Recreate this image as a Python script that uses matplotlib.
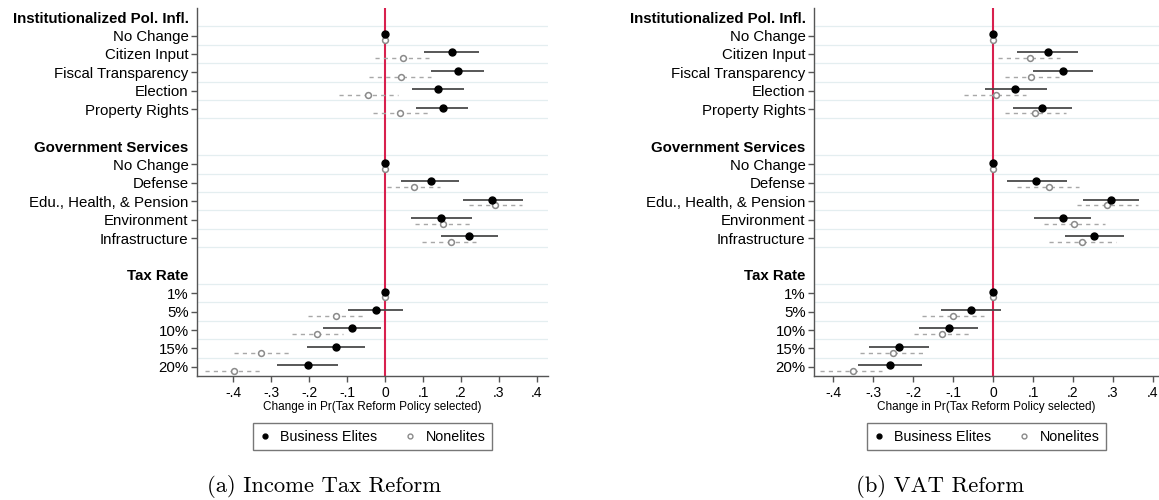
import matplotlib.pyplot as plt
from matplotlib.lines import Line2D

plt.rcParams['font.family'] = ['Liberation Sans', 'DejaVu Sans']

groups = ["Institutionalized Pol. Infl.", "Government Services", "Tax Rate"]
levels = [
    ["No Change", "Citizen Input", "Fiscal Transparency", "Election", "Property Rights"],
    ["No Change", "Defense", "Edu., Health, & Pension", "Environment", "Infrastructure"],
    ["1%", "5%", "10%", "15%", "20%"],
]

# (a) Income tax reform
inc_elite = [0, 0.176, 0.191, 0.140, 0.152, 0, 0.120, 0.282, 0.147, 0.222, 0, -0.025, -0.087, -0.130, -0.204]
inc_elite_lo = [0, 0.103, 0.122, 0.072, 0.082, 0, 0.042, 0.204, 0.068, 0.148, 0, -0.098, -0.162, -0.206, -0.284]
inc_elite_hi = [0, 0.247, 0.261, 0.209, 0.219, 0, 0.195, 0.363, 0.228, 0.297, 0, 0.048, -0.010, -0.053, -0.124]
inc_non = [0, 0.048, 0.041, -0.044, 0.040, 0, 0.075, 0.290, 0.152, 0.173, 0, -0.130, -0.179, -0.327, -0.398]
inc_non_lo = [0, -0.026, -0.041, -0.122, -0.031, 0, 0.006, 0.221, 0.079, 0.098, 0, -0.202, -0.246, -0.398, -0.473]
inc_non_hi = [0, 0.117, 0.122, 0.035, 0.112, 0, 0.144, 0.361, 0.224, 0.240, 0, -0.059, -0.111, -0.253, -0.329]

# (b) VAT reform
vat_elite = [0, 0.137, 0.174, 0.056, 0.123, 0, 0.108, 0.294, 0.174, 0.252, 0, -0.056, -0.111, -0.234, -0.258]
vat_elite_lo = [0, 0.061, 0.099, -0.021, 0.050, 0, 0.035, 0.226, 0.102, 0.179, 0, -0.129, -0.185, -0.309, -0.338]
vat_elite_hi = [0, 0.212, 0.251, 0.135, 0.197, 0, 0.184, 0.365, 0.246, 0.328, 0, 0.020, -0.037, -0.160, -0.178]
vat_non = [0, 0.093, 0.096, 0.007, 0.106, 0, 0.141, 0.285, 0.202, 0.223, 0, -0.099, -0.127, -0.251, -0.351]
vat_non_lo = [0, 0.013, 0.029, -0.073, 0.029, 0, 0.061, 0.211, 0.127, 0.141, 0, -0.178, -0.198, -0.333, -0.433]
vat_non_hi = [0, 0.167, 0.165, 0.083, 0.183, 0, 0.215, 0.362, 0.280, 0.307, 0, -0.022, -0.053, -0.169, -0.277]

xticks = [-0.4, -0.3, -0.2, -0.1, 0, 0.1, 0.2, 0.3, 0.4]
xticklabels = ["-.4", "-.3", "-.2", "-.1", "0", ".1", ".2", ".3", ".4"]

# row positions: header, items, blank line
header_pos, item_pos, item_lab = [], [], []
pos = 0
for g, levs in zip(groups, levels):
    header_pos.append(pos)
    pos += 1
    for lv in levs:
        item_pos.append(pos)
        item_lab.append(lv)
        pos += 1
    pos += 1


def draw(ax, e, elo, ehi, n, nlo, nhi, xlim):
    for h in header_pos:
        ax.axhline(h + 0.5, color='#e4eef0', lw=0.9, zorder=0)
    for p in item_pos:
        ax.axhline(p + 0.5, color='#e4eef0', lw=0.9, zorder=0)
    ax.axvline(0, color='#d8204e', lw=1.5, zorder=1)

    ye = [p - 0.09 for p in item_pos]
    yn = [p + 0.23 for p in item_pos]
    ax.hlines(yn, nlo, nhi, colors='#a8a8a8', lw=1.0, linestyles=(0, (3, 3)), zorder=2)
    ax.plot(n, yn, 'o', ms=4.2, mfc='white', mec='#8a8a8a', mew=1.1, ls='none', zorder=3)
    ax.hlines(ye, elo, ehi, colors='#4a4a4a', lw=1.3, zorder=4)
    ax.plot(e, ye, 'o', ms=5, color='black', ls='none', zorder=5)

    ax.set_xlim(*xlim)
    ax.set_ylim(19.5, -0.5)
    ax.set_xticks(xticks)
    ax.set_xticklabels(xticklabels, fontsize=10)
    ax.set_xlabel("Change in Pr(Tax Reform Policy selected)", fontsize=8.5, labelpad=1)

    ticks = header_pos + item_pos
    labels = groups + item_lab
    ax.set_yticks(ticks)
    ax.set_yticklabels(labels, fontsize=10.8)
    for i, (t, lab) in enumerate(zip(ax.yaxis.get_major_ticks(), ax.get_yticklabels())):
        if i < len(groups):
            t.tick1line.set_visible(False)
            lab.set_fontweight('bold')

    for s in ['top', 'right']:
        ax.spines[s].set_visible(False)
    for s in ['left', 'bottom']:
        ax.spines[s].set_color('#555555')
        ax.spines[s].set_linewidth(1.0)
    ax.tick_params(axis='y', colors='#555555', labelcolor='black', length=4, width=1, pad=2)
    ax.tick_params(axis='x', colors='#555555', labelcolor='black', length=4, width=1, pad=3)

    handles = [
        Line2D([], [], marker='o', ls='none', ms=3.5, color='black', label='Business Elites'),
        Line2D([], [], marker='o', ls='none', ms=3.5, mfc='white', mec='#8a8a8a', mew=1, label='Nonelites'),
    ]
    leg = ax.legend(handles=handles, ncol=2, loc='center', bbox_to_anchor=(0.5, -0.165),
                    frameon=True, fancybox=False, fontsize=10.3, handlelength=0.8,
                    handletextpad=0.7, columnspacing=1.9, borderpad=0.45)
    leg.get_frame().set_edgecolor('#555555')
    leg.get_frame().set_linewidth(1.0)


fig = plt.figure(figsize=(11.59, 5.0), dpi=100)
ax1 = fig.add_axes([197 / 1159, 124 / 500, 351 / 1159, 368 / 500])
ax2 = fig.add_axes([814 / 1159, 124 / 500, 345 / 1159, 368 / 500])

draw(ax1, inc_elite, inc_elite_lo, inc_elite_hi, inc_non, inc_non_lo, inc_non_hi, (-0.495, 0.429))
draw(ax2, vat_elite, vat_elite_lo, vat_elite_hi, vat_non, vat_non_lo, vat_non_hi, (-0.4475, 0.415))

fig.text(324 / 1159, 13 / 500, "(a) Income Tax Reform", family='cmr10', fontsize=16.3,
         ha='center', va='center')
fig.text(940 / 1159, 13 / 500, "(b) VAT Reform", family='cmr10', fontsize=16.3,
         ha='center', va='center')

fig.savefig("out.png", dpi=100)
